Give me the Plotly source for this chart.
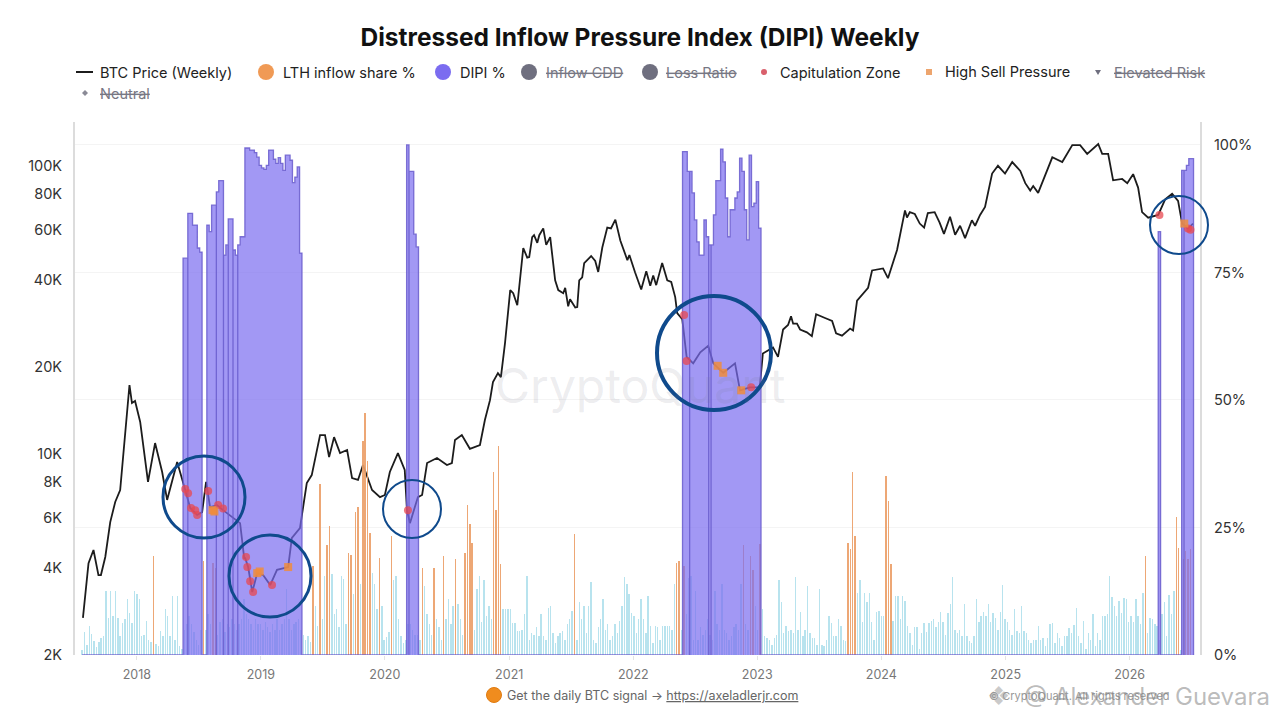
import pandas as pd
import plotly.graph_objects as go

# price, decimal year / USD
price_years = [2017.565, 2017.61, 2017.65, 2017.69, 2017.71, 2017.745, 2017.785, 2017.825, 2017.865, 2017.905, 2017.94, 2017.96, 2017.985,
               2018.027, 2018.05, 2018.09, 2018.147, 2018.204, 2018.244, 2018.325, 2018.39, 2018.43, 2018.486, 2018.526, 2018.558, 2018.59, 2018.647, 2018.695, 2018.832, 2018.865, 2018.873, 2018.897, 2018.93, 2018.97,
               2019.018, 2019.075, 2019.13, 2019.22, 2019.25, 2019.315, 2019.37, 2019.41, 2019.477, 2019.517, 2019.55, 2019.59, 2019.638, 2019.695, 2019.735, 2019.783, 2019.823, 2019.896, 2019.96,
               2020.0, 2020.04, 2020.105, 2020.16, 2020.178, 2020.202, 2020.266, 2020.30, 2020.34, 2020.42, 2020.5, 2020.54, 2020.565, 2020.62, 2020.685, 2020.766, 2020.806,
               2020.847, 2020.871, 2020.911, 2020.935, 2020.968,
               2021.008, 2021.032, 2021.065, 2021.08, 2021.113, 2021.145, 2021.161, 2021.185, 2021.20, 2021.226, 2021.242, 2021.274, 2021.298, 2021.33, 2021.37, 2021.395, 2021.435, 2021.451, 2021.475, 2021.49,
               2021.532, 2021.548, 2021.564, 2021.588, 2021.604, 2021.66, 2021.693, 2021.717, 2021.75, 2021.79, 2021.82, 2021.855, 2021.895, 2021.952, 2021.968,
               2022.015, 2022.064, 2022.105, 2022.137, 2022.161, 2022.185, 2022.233, 2022.274, 2022.306, 2022.338, 2022.354, 2022.395,
               2022.43, 2022.483, 2022.54, 2022.604, 2022.645, 2022.725, 2022.82, 2022.86, 2022.94,
               2023.02, 2023.045, 2023.127, 2023.167, 2023.208, 2023.248, 2023.272, 2023.289, 2023.32, 2023.345, 2023.40, 2023.44, 2023.474, 2023.546, 2023.603, 2023.635, 2023.683, 2023.748, 2023.772, 2023.804, 2023.893, 2023.925,
               2024.014, 2024.054, 2024.127, 2024.191, 2024.207, 2024.23, 2024.27, 2024.31, 2024.345, 2024.375, 2024.43, 2024.47, 2024.505, 2024.554, 2024.595, 2024.635, 2024.675, 2024.73, 2024.756, 2024.796, 2024.836, 2024.893, 2024.94, 2024.997,
               2025.053, 2025.118, 2025.158, 2025.198, 2025.222, 2025.262, 2025.32, 2025.376, 2025.456, 2025.537, 2025.60, 2025.657, 2025.746, 2025.778, 2025.826, 2025.866, 2025.939, 2025.98,
               2026.028, 2026.068, 2026.10, 2026.149, 2026.23, 2026.286, 2026.342, 2026.39, 2026.423, 2026.47, 2026.51]
price_usd = [2690, 4170, 4630, 3790, 3790, 4380, 5790, 6800, 7480, 11420, 17320, 15000, 15240,
             12890, 10980, 7980, 10890, 8640, 6910, 9360, 7480, 6480, 6130, 6270, 7980, 6530, 6630, 6370, 5740, 4340, 4340, 4040, 3310, 3850,
             3790, 3500, 3950, 4040, 5100, 5520, 7910, 8430, 11610, 11610, 9740, 11420, 10050, 10300, 8230, 8110, 9140, 7480, 7070,
             7190, 8640, 10050, 8780, 6370, 5740, 7070, 7190, 9280, 9660, 9140, 9280, 11160, 11610, 10400, 10720, 13090,
             15350, 17740, 19050, 18450, 24200,
             37000, 36100, 32800, 37700, 51800, 48000, 48200, 56500, 57400, 54000, 57400, 60600, 53100, 56500, 40000, 37000, 36100, 37700, 32500, 34400,
             32200, 32300, 40000, 41000, 45900, 48600, 46700, 42800, 52000, 61000, 60600, 65000, 55000, 47000, 49000,
             42600, 37200, 43000, 38300, 41600, 38500, 46000, 40000, 39500, 35000, 30800, 29300,
             21700, 20600, 22500, 23700, 20600, 19100, 20600, 16600, 17000,
             17000, 22300, 23400, 21700, 27000, 28000, 30000, 28300, 28300, 27000, 26400, 25600, 30500, 29600, 28900, 26200, 25700, 27200, 26800, 34000, 37700, 43300,
             44000, 40700, 51000, 70000, 66100, 69000, 68000, 63000, 61000, 68500, 69000, 63500, 58000, 66500, 57600, 61900, 56100, 64700, 61900, 67500, 72000, 94000, 100000, 94000,
             103000, 96000, 87000, 82000, 85000, 80500, 93500, 107000, 103000, 118000, 118000, 110000, 119000, 110000, 110000, 89000, 90000, 87000,
             93500, 84000, 69000, 66000, 67500, 76500, 80000, 75500, 63000, 60500, 63000]

# weekly LTH inflow share %, one list per calendar block
lth_2017 = [1, 4.6, 2, 5.7, 4.2, 2.8, 1.5, 2.5, 3.4, 3.7, 12.5, 7.3, 12.5, 7.7, 12.5, 7.3, 3.7, 6.3, 7, 10.9, 8.3, 6.3, 12.5]
lth_2018 = [11.9, 10.9, 3.7, 4, 6.7, 3, 2.5, 19.4, 2.1, 1.8, 4.7, 3.7, 9, 7.6, 3.7, 11.6, 3, 11.6, 1.8, 1.2,
            5, 6, 7.6, 6, 4.5, 3, 2, 5, 18.4, 5, 8, 6, 18, 17, 4, 6.5, 7, 4.5, 6, 5.5, 7, 6, 5, 6, 7, 11, 8, 7, 6, 5, 7, 6]
lth_2019 = [6, 5, 6.5, 5.5, 4.5, 6, 5, 7, 5, 6, 7, 12.9, 7, 5, 6, 6.5, 7, 5, 4, 3, 3.7, 2.5, 17.5, 9.6, 5.7, 33.5, 7, 15.5, 21.5, 25.3,
            15.8, 8, 9, 5.5, 15.5, 14.9, 6, 20, 19.7, 12, 28, 29, 14, 42, 47.4, 38, 24, 16, 14, 9, 19, 9.6]
lth_2020 = [3, 3.5, 4.5, 23.3, 14.8, 15.5, 7, 3.7, 2.4, 3, 6, 6, 5, 4, 4, 3, 17, 13.5, 8, 6, 4, 17, 7, 5.5, 3, 19.4, 7, 11, 6, 9.6,
            18.8, 10, 7, 4, 20, 29.5, 25.6, 22, 5, 13, 15.5, 6.4, 14.8, 7.6, 9.6, 7, 35.9, 28.5, 41, 17.8, 9, 9]
lth_2021 = [9, 9, 6.3, 6.3, 4.7, 4.7, 5, 8, 15.5, 3, 4.4, 4, 5.4, 3.7, 8, 3.7, 3, 9.3, 9.6, 4.4, 2.4, 3.7, 4.4, 4.7, 3, 6, 7, 8.6, 23.7, 3,
            10.3, 7, 9.6, 4.4, 9.6, 14.3, 3, 2.4, 5.4, 7, 10.9, 5, 6, 3, 3.7, 6, 4.4, 6.7, 9.6, 15.2, 13.9, 11.9]
lth_2022 = [8.3, 7.6, 4.4, 7, 10.9, 7, 4.4, 11.6, 5.7, 2.4, 5.7, 5.4, 3, 5.7, 5.7, 5.7, 5.7, 5, 13.9, 18, 18.4, 5, 17.5, 8, 15, 15.5, 3, 12.5, 3, 5.4,
            4, 5, 7, 4, 3, 12.5, 6, 5, 13.9, 5, 4.4, 3, 3.7, 5.4, 6, 5, 14, 21.5, 6, 5, 19.4, 16.7]
lth_2023 = [9.6, 5, 21.7, 9, 3.7, 3.4, 3, 2, 3.4, 4, 14.8, 10.3, 4.4, 5.7, 4.7, 5, 4.4, 15.2, 5, 8.4, 3.7, 5, 13.5, 4.4, 3.4, 3.4, 2, 12.9, 2, 1.8,
            3, 7.6, 6.3, 3.7, 3.7, 7, 5.7, 3, 2.7, 22, 20.7, 35.9, 23.3, 12.2, 14.7, 6.4, 12.2, 10.3, 12.2, 6.4, 3, 8.4, 8.6]
lth_2024 = [7.6, 7.6, 35, 30.2, 17.8, 6.7, 11.6, 11.6, 7, 11.6, 10.6, 5.7, 4.4, 2, 5.4, 5.4, 1.1, 4.4, 6.2, 4.5, 6.2, 6.7, 7, 5.4, 6.4, 8.4, 6.4, 4, 8.3, 10,
            15.2, 5, 4.4, 5, 3.7, 10, 3.7, 2.7, 2.4, 3.7, 11, 6.4, 7.6, 8.4, 7.6, 10, 6.4, 8.3, 7.3, 5, 8.4, 13.7]
lth_2025 = [7, 6.4, 5, 4, 9, 4.7, 4.4, 9.7, 4.7, 4.4, 3, 2.4, 3, 3, 5.6, 3, 3.4, 1.8, 3.4, 6, 6.2, 2.4, 4.4, 3.4, 1.8, 3.7, 3.7, 5.2, 4.4, 5.8,
            9.3, 3.7, 2.4, 6.7, 1.1, 4.4, 3, 8, 1.8, 4.4, 3, 7.6, 7.6, 8, 15.4, 11.4, 9.6, 7.6, 10.6, 8.3, 11.2, 11]
lth_2026 = [6.4, 7.6, 6.4, 11, 7.6, 6, 12.2, 19.5, 4.4, 7.3, 7, 6, 5.7, 3, 8, 10.3, 3.7, 11.8, 8, 12.5, 27, 21, 1, 18.8, 20.4, 18.8, 20.7]
lth_blocks = [("2017-07-24", lth_2017), ("2018-01-01", lth_2018), ("2018-12-31", lth_2019), ("2019-12-30", lth_2020), ("2020-12-28", lth_2021),
              ("2021-12-27", lth_2022), ("2022-12-26", lth_2023), ("2024-01-01", lth_2024), ("2024-12-30", lth_2025), ("2025-12-29", lth_2026)]

# DIPI % runs, everything between them is 0
dipi_a = [77.8, 77.8, 86.6, 86.6, 84.3, 84.3, 79.8, 79, 0, 0, 84.3, 83, 88.2, 88.2, 90.8, 93, 93, 78.4, 80.4, 85.5, 85.5, 79.4, 78.4, 80.4, 82, 82,
          99.4, 99.4, 99, 99, 98.5, 97.6, 96, 95.5, 95.2, 96, 99, 99, 97.2, 96.4, 97.5, 96.4, 95, 98, 98, 97, 92.6, 93.7, 95.7, 78.8]
dipi_b = [100, 94.8, 94.8, 82.5, 80]
dipi_c = [98.7, 98.7, 94.8, 94.8, 90.6, 85.3, 81, 78.4, 78.4, 85.3, 82, 80.4, 80.4, 86.3, 93, 93, 99.2, 96.7, 89.6, 82, 87.3, 87.3, 89.6, 90.8, 97.4, 94.8, 87.3, 81.4, 98, 87.9, 88.6, 92.8, 83.7]
dipi_d = [83]
dipi_e = [95, 95, 96, 97.3, 97.3]
dipi_starts = ["2018-05-17", "2020-03-05", "2022-05-26", "2026-03-26", "2026-06-03"]
dipi_runs = [dipi_a, dipi_b, dipi_c, dipi_d, dipi_e]
dipi_breaks = [[2, 14, 17, 19, 21, 23], [1], [3, 11, 12], [], [1]]

# signal markers, decimal year / USD
capit_years = [2018.39, 2018.413, 2018.437, 2018.47, 2018.486, 2018.575, 2018.655, 2018.695, 2018.88, 2018.89, 2018.913, 2018.937, 2019.09, 2020.186, 2022.41, 2022.43, 2022.95, 2026.24, 2026.47, 2026.49]
capit_usd = [7540, 7290, 6480, 6370, 6130, 7420, 6630, 6450, 4380, 4040, 3610, 3310, 3500, 6370, 30300, 21000, 17000, 67500, 60500, 60000]
sell_years = [2018.61, 2018.625, 2018.97, 2018.99, 2019.22, 2022.68, 2022.725, 2022.87, 2026.44]
sell_usd = [6370, 6300, 3850, 3900, 4040, 20200, 19100, 16600, 63000]

price_ticks = [2000, 4000, 6000, 8000, 10000, 20000, 40000, 60000, 80000, 100000]
price_labels = ["2K", "4K", "6K", "8K", "10K", "20K", "40K", "60K", "80K", "100K"]
pct_ticks = [0, 25, 50, 75, 100]

TEXT_FONT = "Inter, Roboto, sans-serif"
LEFT, RIGHT, TOP, BOTTOM = 75, 1200, 122, 655
PAGE_MARGIN = 8  # the browser's default body margin
FIG_W, FIG_H = 1272, 704


def to_date(year):
    return pd.Timestamp(int(year), 1, 1) + pd.Timedelta(days=(year % 1) * 365.25)


# page pixels to paper fractions, for the drawn-on circles and the text round the plot
def px(x):
    return (x - LEFT) / (RIGHT - LEFT)


def py(y):
    return (BOTTOM - y) / (BOTTOM - TOP)


lth_x = []
lth_y = []
for start, values in lth_blocks:
    lth_x += list(pd.date_range(start, periods=len(values), freq="7D"))
    lth_y += values
lth_colors = ["rgba(236,160,105,0.92)" if v >= 16.5 else "rgba(160,218,232,0.75)" for v in lth_y]

dipi_x = [lth_x[0]]
dipi_y = [0]
for start, values, breaks in zip(dipi_starts, dipi_runs, dipi_breaks):
    dates = pd.date_range(start, periods=len(values) + 1, freq="7D")
    dipi_x += [dates[0]]
    dipi_y += [0]
    for i, v in enumerate(values):
        if i in breaks:
            dipi_x += [dates[i]]
            dipi_y += [0]
        dipi_x += [dates[i]]
        dipi_y += [v]
    dipi_x += [dates[-1], dates[-1]]
    dipi_y += [values[-1], 0]
dipi_x += [lth_x[-1] + pd.Timedelta(days=7)]
dipi_y += [0]

fig = go.Figure()

fig.add_trace(go.Scatter(
    x=[to_date(y) for y in price_years], y=price_usd, mode="lines", name="BTC Price (Weekly)",
    line=dict(color="#1c1c1c", width=1.8), yaxis="y", showlegend=False,
))
fig.add_trace(go.Bar(
    x=lth_x, y=lth_y, name="LTH inflow share %", marker=dict(color=lth_colors, line_width=0),
    width=4.2 * 24 * 3600 * 1000, yaxis="y2", showlegend=False,
))
fig.add_trace(go.Scatter(
    x=dipi_x, y=dipi_y, mode="lines", name="DIPI %", fill="tozeroy", fillcolor="rgba(123,108,240,0.70)",
    line=dict(color="rgba(104,92,205,0.85)", width=1.3, shape="hv"), yaxis="y2", showlegend=False,
))
fig.add_trace(go.Scatter(
    x=[to_date(y) for y in capit_years], y=capit_usd, mode="markers", name="Capitulation Zone",
    marker=dict(color="rgba(232,72,80,0.75)", size=8, symbol="circle"), yaxis="y3", showlegend=False,
))
fig.add_trace(go.Scatter(
    x=[to_date(y) for y in sell_years], y=sell_usd, mode="markers", name="High Sell Pressure",
    marker=dict(color="rgba(240,140,60,0.85)", size=8, symbol="square"), yaxis="y3", showlegend=False,
))

# hand drawn circles on the picture: centre x, centre y, radius, line width
circles = [(204, 497, 41, 3), (270, 576, 41, 3), (412, 509, 29, 2), (714, 353, 57, 4), (1179, 225, 29, 2)]
shapes = []
for cx, cy, r, w in circles:
    shapes.append(dict(type="circle", xref="paper", yref="paper", x0=px(cx - r), x1=px(cx + r), y0=py(cy + r), y1=py(cy - r),
                       line=dict(color="#0f4a8c", width=w)))

annotations = [
    dict(text="CryptoQuant", x=px(640), y=py(385), font=dict(size=48, color="rgba(120,120,140,0.15)", family=TEXT_FONT)),
    dict(text="Get the daily BTC signal → <u>https://axeladlerjr.com</u>", x=px(505), y=py(695), xanchor="left",
         font=dict(size=12.5, color="#666666", family=TEXT_FONT)),
    dict(text="© CryptoQuant. All rights reserved", x=px(1172), y=py(696), font=dict(size=11, color="#999999", family=TEXT_FONT)),
    dict(text="@ Alexander Guevara", x=px(1272), y=py(696), xanchor="right", font=dict(size=24, color="rgba(130,130,130,0.55)", family=TEXT_FONT)),
    dict(text="❖", x=px(1012), y=py(696), font=dict(size=26, color="rgba(150,150,150,0.5)", family="DejaVu Sans")),
]
shapes.append(dict(type="circle", xref="paper", yref="paper", x0=px(486.5), x1=px(501.5), y0=py(702.5), y1=py(687.5),
                   fillcolor="#f08c1e", line=dict(color="#e07b10", width=1)))

# legend is laid out by hand because hidden entries are struck through and it wraps after Elevated Risk
legend_names = ["BTC Price (Weekly)", "LTH inflow share %", "DIPI %", "<s>Inflow CDD</s>", "<s>Loss Ratio</s>",
                "Capitulation Zone", "High Sell Pressure", "<s>Elevated Risk</s>", "<s>Neutral</s>"]
legend_text_x = [98, 281, 458, 544, 664, 778, 943, 1112, 98]
legend_row_y = [72, 72, 72, 72, 72, 72, 72, 72, 93]
legend_colors = ["#222222", "#222222", "#222222", "#777783", "#777783", "#222222", "#222222", "#777783", "#777783"]
for name, x, y, color in zip(legend_names, legend_text_x, legend_row_y, legend_colors):
    annotations.append(dict(text=name, x=px(x), y=py(y), xanchor="left", font=dict(size=14.5, color=color, family=TEXT_FONT)))

shapes.append(dict(type="line", xref="paper", yref="paper", x0=px(76), x1=px(93), y0=py(72), y1=py(72), line=dict(color="#1c1c1c", width=2)))
for cx, r, color in [(266, 8, "#f09a55"), (443, 8, "#7b6cf0"), (529, 8, "#6f6f7f"), (650, 8, "#6f6f7f"), (764, 3, "#d9606c")]:
    shapes.append(dict(type="circle", xref="paper", yref="paper", x0=px(cx - r), x1=px(cx + r), y0=py(72 + r), y1=py(72 - r),
                       fillcolor=color, line_width=0))
shapes.append(dict(type="rect", xref="paper", yref="paper", x0=px(926), x1=px(932), y0=py(75), y1=py(69), fillcolor="#eda56e", line_width=0))
shapes.append(dict(type="path", xref="paper", yref="paper",
                   path=f"M {px(1095)} {py(70)} L {px(1101)} {py(70)} L {px(1098)} {py(75)} Z", fillcolor="#6f6f7f", line_width=0))
shapes.append(dict(type="path", xref="paper", yref="paper",
                   path=f"M {px(85)} {py(90)} L {px(88)} {py(93)} L {px(85)} {py(96)} L {px(82)} {py(93)} Z", fillcolor="#8a8a96", line_width=0))

for a in annotations:
    a.update(xref="paper", yref="paper", yanchor="middle", showarrow=False)

fig.update_layout(
    width=FIG_W, height=FIG_H, autosize=False,
    margin=dict(l=LEFT - PAGE_MARGIN, r=FIG_W + PAGE_MARGIN - RIGHT, t=TOP - PAGE_MARGIN, b=FIG_H + PAGE_MARGIN - BOTTOM),
    paper_bgcolor="white", plot_bgcolor="white", bargap=0, barmode="overlay",
    title=dict(text="<b>Distressed Inflow Pressure Index (DIPI) Weekly</b>", x=(640 - PAGE_MARGIN) / FIG_W, xanchor="center",
               y=1 - (37 - PAGE_MARGIN) / FIG_H, yanchor="middle", font=dict(size=24.5, color="#111111", family=TEXT_FONT)),
    xaxis=dict(type="date", range=["2017-07-03", "2026-07-27"], tick0="2018-01-01", dtick="M12", tickformat="%Y",
               showgrid=False, ticks="outside", ticklen=4, tickcolor="#e4e4e4", zeroline=False, showline=False, ticklabelstandoff=4,
               tickfont=dict(size=12.5, color="#777777", family=TEXT_FONT)),
    yaxis=dict(type="log", range=[3.30103, 5.152], tickvals=price_ticks, ticktext=price_labels, showgrid=False, zeroline=False,
               showline=True, linecolor="#dcdcdc", linewidth=2, ticks="", ticklabelstandoff=8,
               tickfont=dict(size=14.5, color="#333333", family=TEXT_FONT)),
    yaxis2=dict(overlaying="y", side="right", range=[0, 104.5], tickvals=pct_ticks, ticktext=[f"{v}%" for v in pct_ticks],
                showgrid=True, gridcolor="#f4f4f4", gridwidth=1, zeroline=False, showline=True, linecolor="#dcdcdc", linewidth=2,
                ticks="", ticklabelstandoff=9, tickfont=dict(size=14.5, color="#333333", family=TEXT_FONT)),
    yaxis3=dict(overlaying="y", type="log", range=[3.30103, 5.152], visible=False),
    shapes=shapes, annotations=annotations,
)

fig.write_html("out.html")
